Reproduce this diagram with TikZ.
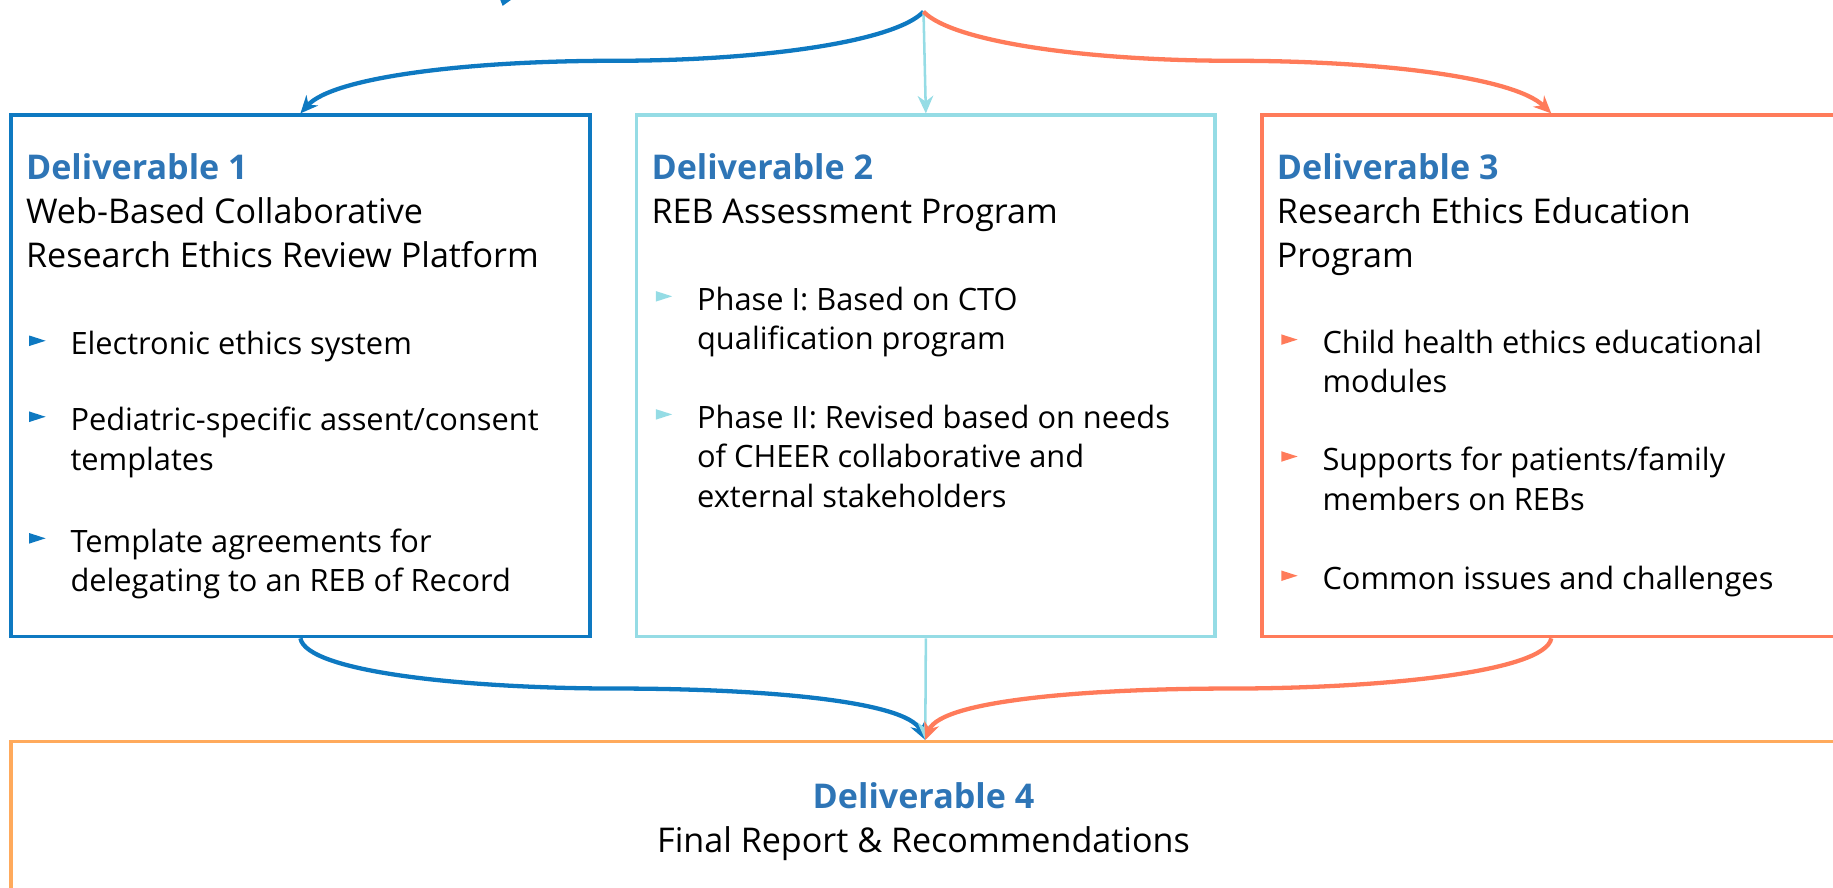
\documentclass[tikz,border=0pt]{standalone}
\usepackage{fontspec}
\setmainfont{Open Sans}
\usetikzlibrary{arrows.meta,positioning}
\definecolor{dblue}{RGB}{14,121,193}
\definecolor{dcyan}{RGB}{149,220,229}
\definecolor{dsalmon}{RGB}{255,123,90}
\definecolor{dorange}{RGB}{255,170,92}
\definecolor{hblue}{RGB}{46,117,182}
\tikzset{
    dbox/.style={draw,line width=1.8pt,anchor=north west,inner sep=0pt,minimum width=297pt,minimum height=267.6pt},
    ttl/.style={anchor=north west,inner sep=0pt,align=left,font=\fontsize{17.5}{22.6}\selectfont},
    itm/.style={anchor=north west,inner sep=0pt,align=left,font=\fontsize{15.8}{20.3}\selectfont},
    flow/.style={line width=2.2pt,-{Stealth[length=9pt,width=8pt]}}
}
\newcommand{\dhead}[1]{\textcolor{hblue}{\bfseries Deliverable #1}}
\begin{document}
\begin{tikzpicture}[x=0.6pt,y=-0.6pt]
                \useasboundingbox (0,0) rectangle (1568,759);
                \node[dbox,draw=dblue] (d1) at (8,97) {};
                \node[dbox,draw=dcyan] (d2) at (543,97) {};
                \node[dbox,draw=dsalmon] (d3) at (1078,97) {};
                \node[dbox,draw=dorange,minimum width=938.4pt,minimum height=90pt] (d4) at (8,633) {};
                \coordinate (src) at (790,10);
                \fill[dblue] (428,0) -- (437,0) -- (430,5) -- cycle;
                \draw[flow,dblue] (src) .. controls (765,36) and (650,52) .. (525,52) .. controls (400,52) and (285,66) .. (d1.north);
                \draw[flow,dcyan,line width=1.3pt] (src) -- (d2.north);
                \draw[flow,dsalmon] (src) .. controls (815,36) and (930,52) .. (1055,52) .. controls (1180,52) and (1295,66) .. (d3.north);
                \draw[flow,dblue] (d1.south) .. controls (262,575) and (400,589) .. (528,589) .. controls (640,589) and (775,598) .. (d4.north);
                \draw[flow,dcyan,line width=1.3pt] (d2.south) -- (d4.north);
                \draw[flow,dsalmon] (d3.south) .. controls (1322,575) and (1180,589) .. (1052,589) .. controls (940,589) and (805,598) .. (d4.north);
                \node[ttl] (t1) at (22,131) {\dhead{1}\\Web-Based Collaborative\\Research Ethics Review Platform};
                \node[itm] (i11) at (60,283) {Electronic ethics system};
                \node[itm] (i12) at (60,348) {Pediatric-specific assent/consent\\templates};
                \node[itm] (i13) at (60,452) {Template agreements for\\delegating to an REB of Record};
                \node[ttl] (t2) at (557,131) {\dhead{2}\\REB Assessment Program};
                \node[itm] (i21) at (596,245) {Phase I: Based on CTO\\qualification program};
                \node[itm] (i22) at (596,346) {Phase II: Revised based on needs\\of CHEER collaborative and\\external stakeholders};
                \node[ttl] (t3) at (1092,131) {\dhead{3}\\Research Ethics Education\\Program};
                \node[itm] (i31) at (1131,282) {Child health ethics educational\\modules};
                \node[itm] (i32) at (1131,382) {Supports for patients/family\\members on REBs};
                \node[itm] (i33) at (1131,484) {Common issues and challenges};
                \node[ttl,anchor=north,align=center] (t4) at (790,669) {\dhead{4}\\Final Report \& Recommendations};
                \foreach \n/\c in {i11/dblue,i12/dblue,i13/dblue,i21/dcyan,i22/dcyan,i31/dsalmon,i32/dsalmon,i33/dsalmon}
                {
                    \fill[\c] (\n.north west) ++(-35,4) -- ++(14,4.5) -- ++(-14,4.5) -- cycle;
                }
\end{tikzpicture}
\end{document}
